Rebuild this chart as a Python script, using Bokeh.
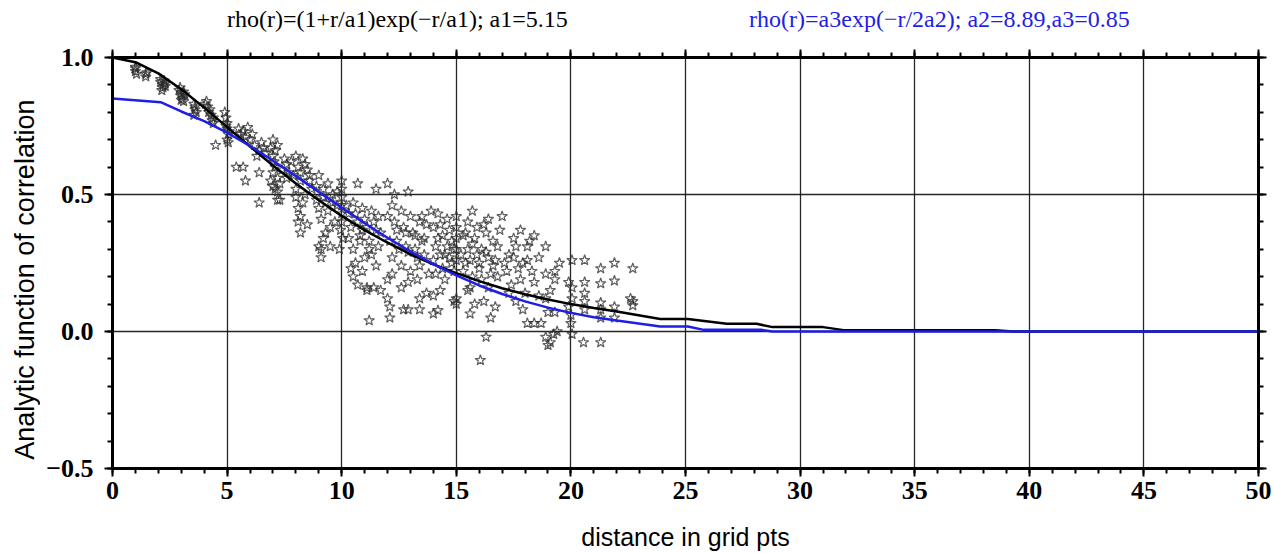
import math
from bokeh.plotting import figure
from bokeh.layouts import column, row
from bokeh.models import Range1d, LinearAxis, FixedTicker
from bokeh.core.properties import value
from bokeh.embed import file_html
from bokeh.resources import INLINE

# ---------------- data ----------------
title_black = "rho(r)=(1+r/a1)exp(\u2212r/a1); a1=5.15"
title_blue = "rho(r)=a3exp(\u2212r/2a2); a2=8.89,a3=0.85"
title_pos_x = [12.43, 36.08]
y_title = "Analytic function of correlation"
x_title = "distance in grid pts"

x_ticks = [0, 5, 10, 15, 20, 25, 30, 35, 40, 45, 50]
x_tick_labels = ["0", "5", "10", "15", "20", "25", "30", "35", "40", "45", "50"]
y_ticks = [-0.5, 0.0, 0.5, 1.0]
y_tick_labels = ["\u22120.5", "0.0", "0.5", "1.0"]

black_x = [0, 1, 2, 3, 4, 5, 6, 7, 8, 9, 10, 11, 12, 13, 14, 15, 16, 17, 18, 19,
           20, 21, 22, 23.9, 25.1, 26.8, 28.1, 28.8, 31.0, 31.9, 38.5, 39.3, 50]
black_y = [1.0, 0.983, 0.942, 0.884, 0.817, 0.746, 0.675, 0.606, 0.540, 0.479,
           0.422, 0.370, 0.324, 0.282, 0.245, 0.213, 0.184, 0.158, 0.136, 0.117,
           0.100, 0.086, 0.073, 0.046, 0.046, 0.028, 0.028, 0.016, 0.016, 0.005,
           0.005, 0.0, 0.0]

blue_x = [0, 2.1, 3, 4, 5, 6, 7, 8, 9, 10, 11, 12, 13, 14, 15, 16, 17, 18, 19,
          20, 21, 22, 23.9, 25.1, 25.8, 28.3, 28.8, 50]
blue_y = [0.85, 0.837, 0.803, 0.768, 0.726, 0.677, 0.623, 0.567, 0.509, 0.452,
          0.395, 0.342, 0.292, 0.246, 0.205, 0.168, 0.137, 0.110, 0.087, 0.068,
          0.052, 0.040, 0.018, 0.018, 0.006, 0.006, 0.0, 0.0]

star_pts = [
    (1.0, 0.96), (1.0, 0.95), (1.05, 0.94), (1.0, 0.965), (1.45, 0.94), (1.45, 0.93), (1.5, 0.945),
    (2.1, 0.92), (2.1, 0.91), (2.2, 0.90), (2.2, 0.89), (2.3, 0.905), (2.15, 0.88), (2.25, 0.915), (2.3, 0.895),
    (2.9, 0.88), (3.0, 0.87), (3.0, 0.86), (3.05, 0.85), (3.1, 0.84), (2.95, 0.89), (3.15, 0.865), (3.1, 0.875), (3.0, 0.845),
    (3.55, 0.83), (3.6, 0.82), (3.6, 0.81), (3.65, 0.80), (3.55, 0.79),
    (4.1, 0.84), (4.15, 0.82), (4.2, 0.80), (4.3, 0.79), (4.35, 0.77), (4.4, 0.76), (4.25, 0.81), (4.4, 0.78), (4.05, 0.83),
    (4.5, 0.68),
    (4.9, 0.80), (4.95, 0.78), (5.0, 0.76), (5.0, 0.74), (5.05, 0.72), (5.0, 0.70), (5.1, 0.73), (4.95, 0.75), (5.05, 0.69),
    (5.5, 0.74), (5.7, 0.73), (5.9, 0.745), (6.1, 0.72), (5.8, 0.71), (5.6, 0.72), (6.0, 0.70), (5.4, 0.60), (5.7, 0.60),
    (5.8, 0.55), (6.4, 0.58), (6.2, 0.68), (6.4, 0.66), (6.6, 0.67), (6.7, 0.65), (6.3, 0.64), (6.5, 0.69),
    (6.9, 0.67), (7.0, 0.64), (7.05, 0.62), (7.1, 0.66), (7.0, 0.70), (7.2, 0.68), (7.1, 0.60), (7.0, 0.58), (7.2, 0.56),
    (7.3, 0.54), (7.1, 0.52), (7.2, 0.51), (6.4, 0.47), (7.3, 0.48), (7.2, 0.48), (7.6, 0.61), (7.7, 0.58), (7.6, 0.56),
    (7.5, 0.63), (7.4, 0.59), (6.9, 0.55), (7.0, 0.53),
    (7.8, 0.62), (8.0, 0.64), (8.2, 0.58), (8.4, 0.61), (8.6, 0.55), (7.9, 0.57), (8.1, 0.60), (8.3, 0.63), (8.5, 0.59),
    (8.0, 0.52), (8.2, 0.55), (8.4, 0.50), (8.6, 0.57), (8.1, 0.45), (8.2, 0.42), (8.1, 0.40), (8.2, 0.36), (8.5, 0.39),
    (8.7, 0.52), (8.3, 0.47), (8.0, 0.49),
    (8.9, 0.53), (9.0, 0.57), (9.2, 0.49), (9.4, 0.54), (9.6, 0.47), (9.8, 0.51), (9.0, 0.45), (9.2, 0.52), (9.4, 0.44),
    (9.6, 0.50), (9.8, 0.46), (8.9, 0.48), (9.1, 0.41), (9.3, 0.47), (9.0, 0.31), (9.1, 0.27), (9.2, 0.34), (9.5, 0.31),
    (9.1, 0.30), (10.0, 0.55), (10.0, 0.52), (10.0, 0.49), (10.0, 0.46), (10.0, 0.43), (10.0, 0.40), (9.95, 0.37),
    (10.05, 0.34), (9.7, 0.40), (9.5, 0.38), (9.9, 0.30), (9.3, 0.36),
    (10.7, 0.54), (11.5, 0.52), (10.3, 0.43), (10.5, 0.47), (10.7, 0.40), (10.9, 0.45), (11.1, 0.38), (11.3, 0.44),
    (11.5, 0.37), (10.4, 0.38), (10.6, 0.43), (10.8, 0.35), (11.0, 0.41), (11.2, 0.33), (11.4, 0.40), (10.2, 0.46),
    (10.9, 0.37), (11.6, 0.42), (10.5, 0.30), (10.8, 0.33), (11.0, 0.27), (11.2, 0.30), (10.6, 0.25), (11.3, 0.28),
    (10.4, 0.23), (10.5, 0.20), (10.7, 0.17), (11.1, 0.16), (11.1, 0.15), (11.4, 0.16), (11.7, 0.15), (11.2, 0.04),
    (10.3, 0.34), (11.6, 0.31), (11.7, 0.36), (10.9, 0.22), (11.5, 0.24),
    (12.0, 0.54), (12.3, 0.50), (12.9, 0.51), (12.0, 0.42), (12.2, 0.46), (12.4, 0.37), (12.6, 0.44), (12.8, 0.36),
    (13.0, 0.42), (13.2, 0.35), (13.4, 0.40), (13.6, 0.34), (13.9, 0.44), (12.1, 0.33), (12.3, 0.40), (12.5, 0.30),
    (12.7, 0.38), (12.9, 0.29), (13.1, 0.36), (13.3, 0.27), (13.5, 0.33), (13.7, 0.39), (12.2, 0.27), (12.4, 0.33),
    (12.6, 0.24), (12.8, 0.31), (13.0, 0.22), (13.2, 0.30), (13.4, 0.24), (13.6, 0.28), (13.8, 0.21), (12.0, 0.19),
    (12.6, 0.16), (12.0, 0.12), (12.1, 0.09), (12.1, 0.05), (12.7, 0.08), (12.9, 0.08), (13.4, 0.12), (13.4, 0.08),
    (13.7, 0.14), (14.0, 0.13), (13.5, 0.42), (12.2, 0.21), (12.9, 0.18), (13.3, 0.19),
    (14.0, 0.38), (14.2, 0.43), (14.4, 0.35), (14.6, 0.41), (14.8, 0.33), (14.1, 0.31), (14.3, 0.39), (14.5, 0.28),
    (14.7, 0.37), (14.9, 0.30), (14.0, 0.26), (14.2, 0.34), (14.4, 0.23), (14.6, 0.31), (14.8, 0.25), (14.1, 0.21),
    (14.3, 0.28), (14.5, 0.19), (14.7, 0.27), (14.9, 0.22), (14.2, 0.077), (14.3, 0.15), (14.0, 0.065), (14.9, 0.11),
    (15.0, 0.10), (15.0, 0.12), (15.0, 0.42), (15.0, 0.38), (15.0, 0.34), (15.0, 0.30), (15.0, 0.26),
    (15.7, 0.44), (15.3, 0.35), (15.5, 0.40), (15.7, 0.32), (15.9, 0.38), (16.1, 0.30), (16.4, 0.41), (17.0, 0.42),
    (16.3, 0.36), (16.6, 0.33), (15.2, 0.28), (15.4, 0.36), (15.6, 0.26), (15.8, 0.34), (16.0, 0.25), (16.2, 0.39),
    (16.4, 0.27), (16.6, 0.24), (16.8, 0.31), (15.3, 0.22), (15.5, 0.30), (15.7, 0.20), (15.9, 0.28), (16.1, 0.19),
    (16.3, 0.29), (16.5, 0.21), (16.7, 0.26), (15.4, 0.25), (15.6, 0.16), (16.0, 0.23), (16.4, 0.16), (16.8, 0.20),
    (15.6, 0.065), (16.5, 0.05), (16.3, -0.02), (16.05, -0.105), (15.8, 0.10), (16.2, 0.11), (16.7, 0.09), (15.5, 0.15),
    (16.9, 0.37),
    (17.5, 0.34), (17.8, 0.37), (18.1, 0.31), (18.4, 0.35), (17.3, 0.28), (17.6, 0.31), (17.9, 0.25), (18.2, 0.33),
    (18.6, 0.27), (18.9, 0.31), (17.2, 0.22), (17.5, 0.27), (17.8, 0.19), (18.1, 0.26), (18.4, 0.18), (17.1, 0.25),
    (17.4, 0.17), (17.7, 0.23), (18.0, 0.14), (18.3, 0.22), (18.6, 0.13), (17.6, 0.11), (17.9, 0.08), (18.1, 0.03),
    (18.4, 0.03), (18.7, 0.03), (18.9, -0.02), (19.0, -0.05), (19.1, -0.04), (19.25, -0.01), (18.9, 0.21), (19.5, 0.25),
    (19.3, 0.22), (19.3, 0.19), (19.1, 0.15), (19.0, 0.07), (19.3, 0.07), (19.4, 0.0), (18.9, 0.12), (17.3, 0.14),
    (20.05, 0.26), (20.6, 0.26), (21.3, 0.23), (21.9, 0.25), (22.7, 0.23), (21.3, 0.175), (21.9, 0.185), (20.6, 0.18),
    (19.9, 0.18), (20.6, 0.14), (20.6, 0.11), (21.3, 0.105), (22.7, 0.11), (22.7, 0.095), (21.9, 0.09), (21.9, 0.05),
    (21.3, 0.08), (21.3, 0.05), (20.6, 0.08), (19.9, 0.09), (20.0, 0.06), (20.0, 0.03), (20.55, -0.04), (21.3, -0.04),
    (20.05, -0.01), (20.05, 0.12), (20.05, 0.16), (22.6, 0.12),
]
star_x = [pt[0] for pt in star_pts]
star_y = [pt[1] for pt in star_pts]

BLUE = "#1e1ee6"
W = 1275
TITLE_H = 40
MAIN_H = 553 - TITLE_H
LAB_W = 40
SERIF = "Liberation Serif"
SANS = "Liberation Sans"


def blank(fig):
    fig.axis.visible = False
    fig.grid.visible = False
    fig.outline_line_color = None
    fig.background_fill_color = "white"
    fig.border_fill_color = "white"


# ---------------- title strip ----------------
pt = figure(width=W, height=TITLE_H, output_backend="svg", toolbar_location=None,
            x_range=Range1d(0, 50), y_range=Range1d(0, 1),
            min_border_left=112, min_border_right=17, min_border_top=0, min_border_bottom=0)
blank(pt)
pt.text(x=title_pos_x, y=[0.55, 0.55], text=[title_black, title_blue],
        text_color=["black", BLUE], text_font=value(SERIF), text_font_size="24px",
        text_align="center", text_baseline="middle")

# ---------------- y-axis title strip ----------------
pl = figure(width=LAB_W, height=MAIN_H, output_backend="svg", toolbar_location=None,
            x_range=Range1d(0, 1), y_range=Range1d(-0.5 - 85 / 274.0, 1.0 + 17 / 274.0),
            min_border_left=0, min_border_right=0, min_border_top=0, min_border_bottom=0)
blank(pl)
pl.text(x=[0.62], y=[0.05], text=[y_title], angle=math.pi / 2,
        text_color="black", text_font=value(SANS), text_font_size="27px",
        text_align="center", text_baseline="middle")

# ---------------- main plot ----------------
p = figure(width=W - LAB_W, height=MAIN_H, output_backend="svg", toolbar_location=None,
           x_range=Range1d(0, 50), y_range=Range1d(-0.5, 1.0),
           min_border_left=112 - LAB_W, min_border_right=17, min_border_top=17, min_border_bottom=85)
p.background_fill_color = "white"
p.border_fill_color = "white"
p.outline_line_color = "black"
p.outline_line_width = 3

minor_x = list(range(0, 51))
minor_y = [round(-0.5 + 0.1 * i, 2) for i in range(16)]


def style_axis(ax, ticks, minor, show_labels):
    ax.ticker = FixedTicker(ticks=ticks, minor_ticks=minor)
    ax.axis_line_width = 3
    ax.axis_line_color = "black"
    ax.major_tick_line_width = 2
    ax.minor_tick_line_width = 2
    ax.major_tick_line_color = "black"
    ax.minor_tick_line_color = "black"
    ax.major_tick_out = 8
    ax.major_tick_in = 0
    ax.minor_tick_out = 5
    ax.minor_tick_in = 0
    if not show_labels:
        ax.major_label_text_alpha = 0
        ax.major_label_text_font_size = "1px"
        ax.major_label_standoff = 0


xa = p.xaxis[0]
style_axis(xa, x_ticks, minor_x, True)
xa.major_label_overrides = {t: l for t, l in zip(x_ticks, x_tick_labels)}
xa.major_label_text_font = SERIF
xa.major_label_text_font_style = "bold"
xa.major_label_text_font_size = "26px"
xa.major_label_text_color = "black"
xa.major_label_standoff = 5
xa.axis_label = x_title
xa.axis_label_text_font = SANS
xa.axis_label_text_font_style = "normal"
xa.axis_label_text_font_size = "25px"
xa.axis_label_text_color = "black"
xa.axis_label_standoff = 21

ya = p.yaxis[0]
style_axis(ya, y_ticks, minor_y, True)
ya.major_label_overrides = {t: l for t, l in zip(y_ticks, y_tick_labels)}
ya.major_label_text_font = SERIF
ya.major_label_text_font_style = "bold"
ya.major_label_text_font_size = "26px"
ya.major_label_text_color = "black"
ya.major_label_standoff = 11

top_ax = LinearAxis()
style_axis(top_ax, x_ticks, minor_x, False)
p.add_layout(top_ax, "above")
right_ax = LinearAxis()
style_axis(right_ax, y_ticks, minor_y, False)
p.add_layout(right_ax, "right")

p.xgrid.ticker = FixedTicker(ticks=x_ticks)
p.ygrid.ticker = FixedTicker(ticks=y_ticks)
for g in (p.xgrid[0], p.ygrid[0]):
    g.grid_line_color = "black"
    g.grid_line_width = 1.3
    g.grid_line_alpha = 0.85

# scatter of sample correlations
p.scatter(star_x, star_y, marker="star", size=11, fill_color=None,
          line_color="#2a2a2a", line_alpha=0.75, line_width=1.2)

# analytic curves
p.line(black_x, black_y, line_color="black", line_width=2.5)
p.line(blue_x, blue_y, line_color=BLUE, line_width=2.5)

layout = column(pt, row(pl, p, spacing=0), spacing=0)
open("out.html", "w").write(file_html(layout, INLINE))
